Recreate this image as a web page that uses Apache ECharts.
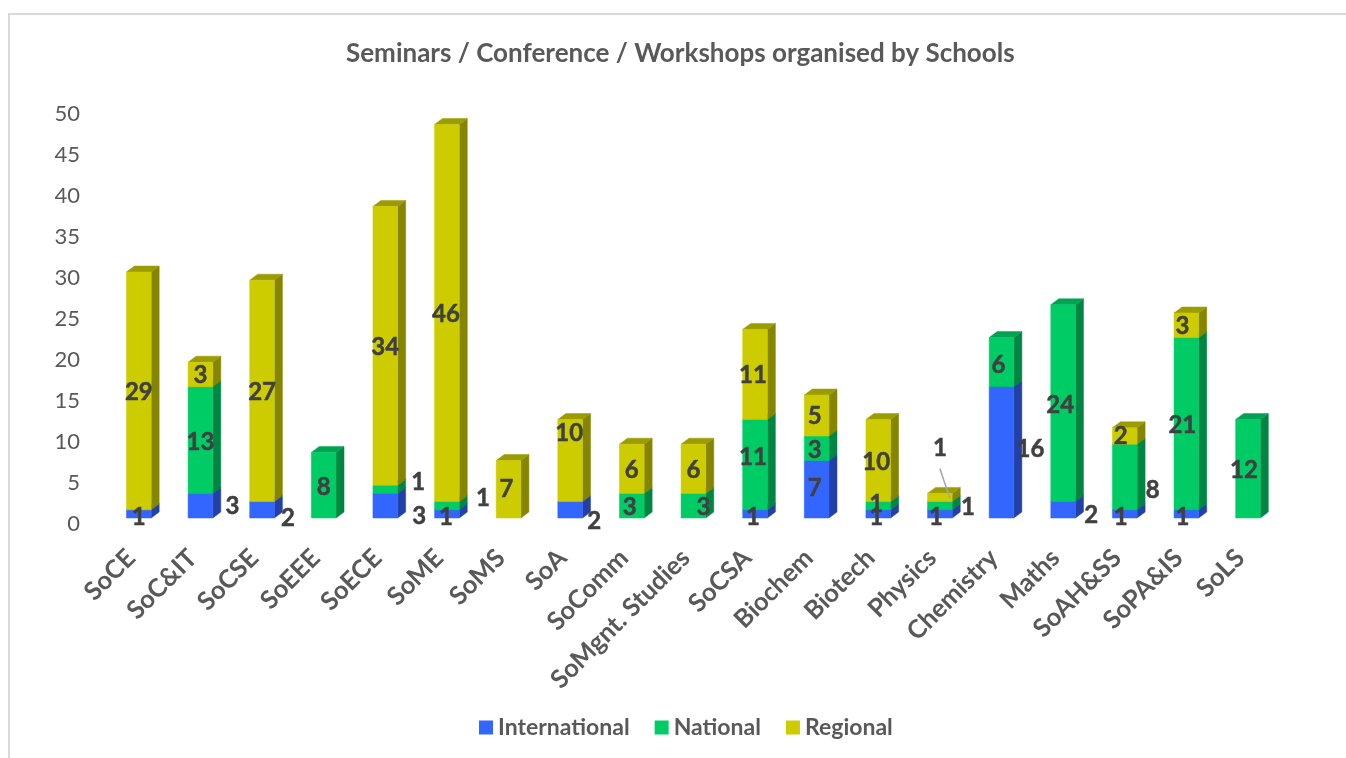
<!DOCTYPE html>
<html><head><meta charset="utf-8">
<style>html,body{margin:0;padding:0;background:#fff}#c{width:1346px;height:758px}</style>
<script src="https://cdn.jsdelivr.net/npm/echarts@6/dist/echarts.min.js"></script>
</head><body><div id="c"></div>
<script>
const categories = ['SoCE','SoC&IT','SoCSE','SoEEE','SoECE','SoME','SoMS','SoA','SoComm','SoMgnt. Studies','SoCSA','Biochem','Biotech','Physics','Chemistry','Maths','SoAH&SS','SoPA&IS','SoLS'];
const international = [1,3,2,0,3,1,0,2,0,0,1,7,1,1,16,2,1,1,0];
const national      = [0,13,0,8,1,1,0,0,3,3,11,3,1,1,6,24,8,21,12];
const regional      = [29,3,27,0,34,46,7,10,6,6,11,5,10,1,0,0,2,3,0];

// Manual label nudges (px from the segment centre), as in the source chart
const intlNudge = {0:[0,2],1:[32,0],2:[26,7],4:[34,10],5:[-1,2],7:[24,10],10:[-2,2],11:[-2,-2],12:[-2,2],13:[-4,2],14:[29,-4],15:[28,4],16:[-4,2],17:[-4,2]};
const natNudge  = {1:[0,1],3:[0,1],4:[33,-8],5:[36,-8],8:[-2,1],9:[10,1],10:[-2,-8],11:[-2,1],12:[-2,-2],13:[28,1],14:[-3,2],15:[-3,1],16:[28,12],17:[-4,1],18:[-4,0]};
const regNudge  = {5:[-1,0],6:[-2,-1],7:[-1,-28],10:[-2,0],11:[-2,0],12:[-2,1],13:[0,-50],16:[-4,-1],17:[-4,0]};

const FONT = 'Lato';
const BAR_W = 24.7, DEPTH_X = 8, DEPTH_Y = 6, FLOOR = 6;
const styles = {
  International: {front:'#3366FF', side:'#2240A6', top:'#2A52CC'},
  National:      {front:'#00CC66', side:'#008542', top:'#00A352'},
  Regional:      {front:'#CCCC00', side:'#858500', top:'#9C9C00'}
};

function barItem(name){
  const s = styles[name];
  return function(params, api){
    const cat = api.value(0), base = api.value(1), v = api.value(2);
    if (!v) return {type:'group', children:[]};
    const p0 = api.coord([cat, base]), p1 = api.coord([cat, base + v]);
    const l = p0[0] - BAR_W/2, r = l + BAR_W, b = p0[1] - FLOOR, t = p1[1] - FLOOR;
    const poly = (pts, fill, stroke) => ({type:'polygon', shape:{points:pts},
      style:{fill, stroke: stroke || fill, lineWidth:0.5}});
    return {type:'group', children:[
      poly([[r,t],[r+DEPTH_X,t-DEPTH_Y],[r+DEPTH_X,b-DEPTH_Y],[r,b]], s.side),
      poly([[l,t],[l+DEPTH_X,t-DEPTH_Y],[r+DEPTH_X,t-DEPTH_Y],[r,t]], s.top),
      poly([[l,t],[r,t],[r,b],[l,b]], s.front)
    ]};
  };
}
function barData(vals, under){
  return vals.map((v,i)=>[i, under.reduce((a,u)=>a+u[i],0), v]);
}
function labelRows(vals, under, nudge){
  return vals.map((v,i)=>{
    const n = nudge[i] || [0,0];
    return [i, under.reduce((a,u)=>a+u[i],0) + v/2, v, n[0], n[1]];
  }).filter(r=>r[2]>0);
}
const labelData = [].concat(
  labelRows(international, [], intlNudge),
  labelRows(national, [international], natNudge),
  labelRows(regional, [international, national], regNudge)
);
const leaderFor = {category:'Physics', nudgeY:-50};

function labelItem(params, api){
  const cat = api.value(0), mid = api.value(1), v = api.value(2), dx = api.value(3), dy = api.value(4);
  const p = api.coord([cat, mid]);
  const x = p[0] + dx, y = p[1] - FLOOR + dy + 1;
  const children = [{type:'text', style:{x, y, text:String(v), fill:'#404040', stroke:'#404040', lineWidth:0.5,
    font:'bold 24px '+FONT, textAlign:'center', textVerticalAlign:'middle'}}];
  if (categories[cat] === leaderFor.category && dy === leaderFor.nudgeY) {
    children.unshift({type:'line', shape:{x1:x, y1:y+20, x2:x+10, y2:y+50},
      style:{stroke:'#A6A6A6', lineWidth:1.5}});
  }
  return {type:'group', children};
}

const chart = echarts.init(document.getElementById('c'), null, {renderer:'canvas'});
chart.setOption({
  animation:false,
  backgroundColor:'#fff',
  graphic:[{type:'polyline', silent:true, shape:{points:[[9,758],[9,14],[1346,14]]},
    style:{stroke:'#D9D9D9', lineWidth:2, fill:null}}],
  title:{text:'Seminars / Conference / Workshops organised by Schools', left:341, top:36,
    textStyle:{fontFamily:FONT, fontWeight:'bold', fontSize:26, color:'#595959'}},
  legend:{data:['International','National','Regional'], left:474, top:711, itemWidth:14, itemHeight:14, itemGap:25,
    icon:'rect', textStyle:{fontFamily:FONT, fontWeight:'bold', fontSize:23, color:'#595959'}},
  grid:{left:108, width:1170.8, top:114, height:410},
  xAxis:{type:'category', data:categories, axisLine:{show:false}, axisTick:{show:false},
    axisLabel:{interval:0, rotate:45, margin:22, padding:[0,11,0,0], fontFamily:FONT, fontWeight:'bold', fontSize:25.5, color:'#595959'}},
  yAxis:{type:'value', min:0, max:50, interval:5, splitLine:{show:false}, axisLine:{show:false}, axisTick:{show:false},
    axisLabel:{margin:28, fontFamily:FONT, fontSize:22, color:'#595959'}},
  series:[
    {name:'International', type:'custom', renderItem:barItem('International'), itemStyle:{color:styles.International.front},
      encode:{x:0,y:1}, data:barData(international, [])},
    {name:'National', type:'custom', renderItem:barItem('National'), itemStyle:{color:styles.National.front},
      encode:{x:0,y:1}, data:barData(national, [international])},
    {name:'Regional', type:'custom', renderItem:barItem('Regional'), itemStyle:{color:styles.Regional.front},
      encode:{x:0,y:1}, data:barData(regional, [international, national])},
    {name:'Data labels', type:'custom', renderItem:labelItem, z:10, encode:{x:0,y:1}, data:labelData, silent:true}
  ]
});
</script></body></html>
